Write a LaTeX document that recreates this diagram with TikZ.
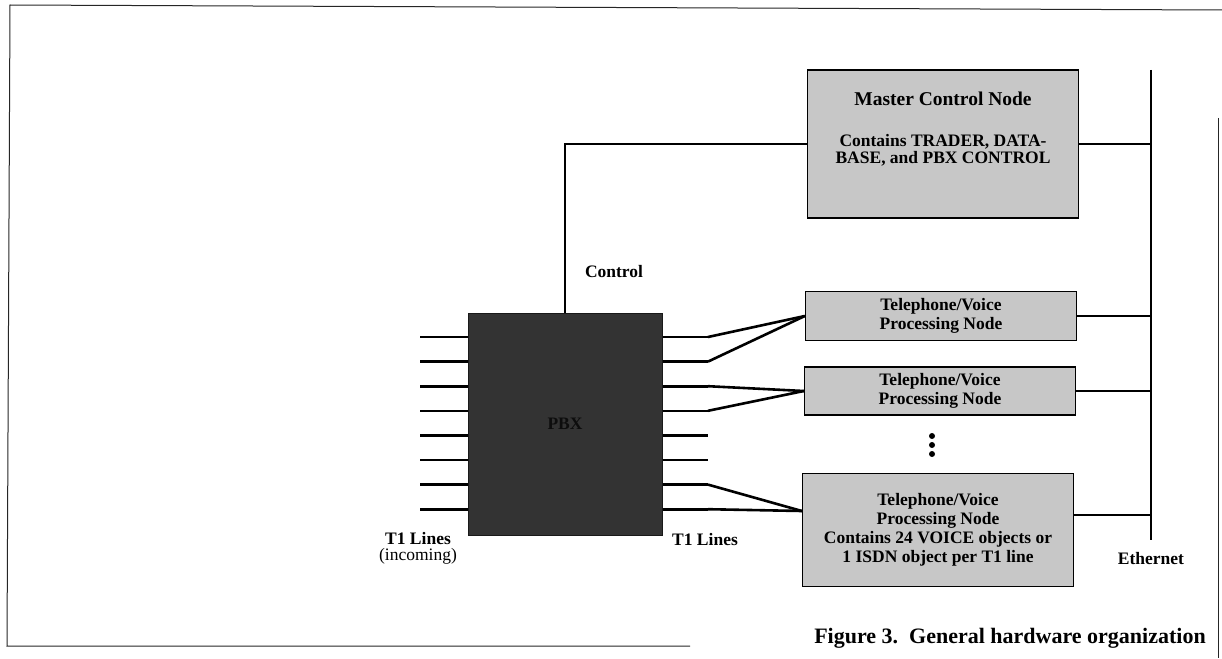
\documentclass[tikz,border=0pt]{standalone}
\usepackage{fontspec}
\setmainfont{Liberation Serif}
\usetikzlibrary{positioning}

\begin{document}
\begin{tikzpicture}[x=1pt,y=-1pt,
  font=\fontsize{17.5}{19}\selectfont\bfseries,
  gbox/.style={draw,line width=1.3pt,fill=black!22,align=center,inner sep=0pt,minimum width=271pt},
  pbxbox/.style={draw=black!90,line width=1pt,fill=black!80,minimum width=194pt,minimum height=222pt,text=black!95},
  lbl/.style={align=center,inner sep=0pt},
  t1/.style={line width=2.6pt,line join=round},
  lnk/.style={line width=1.1pt},
  bus/.style={line width=2pt},
  frm/.style={line width=1pt,black!85},
]
\useasboundingbox (0,0) rectangle (1222,658);
% frame of the figure
\draw[frm] (1222,10) -- (10,5) -- (7,646) -- (690,646);
\draw[frm] (1218,118) -- (1218,658);
% nodes
\node[pbxbox] (pbx) at (565,424) {PBX};
\node[gbox,minimum height=148pt] (mcn) at (943,144) {};
\node[lbl,below=22pt of mcn.north,font=\fontsize{17.5}{17}\selectfont\bfseries] (mcntxt)
  {{\fontsize{19.5}{17}\selectfont Master Control Node}\\[24pt]Contains TRADER, DATA-\\BASE, and PBX CONTROL};
\node[gbox,minimum height=49pt] (tv1) at (941,316) {Telephone/Voice\\Processing Node};
\node[gbox,minimum height=48pt] (tv2) at (940,391) {Telephone/Voice\\Processing Node};
\node[gbox,minimum height=113pt] (tv3) at (938,530)
  {Telephone/Voice\\Processing Node\\Contains 24 VOICE objects or\\1 ISDN object per T1 line};
\foreach \d in {436,445,454} \fill (932,\d) circle (3pt);
% ethernet
\coordinate (ethtop) at (1151,70);
\coordinate (ethbot) at (1151,540);
\draw[bus] (ethtop) -- (ethbot);
\draw[lnk] (mcn.east) -- (mcn.east -| ethtop);
\draw[lnk] (tv1.east) -- (tv1.east -| ethtop);
\draw[lnk] (tv2.east) -- (tv2.east -| ethtop);
\coordinate (tv3out) at ([yshift=15pt]tv3.east);
\draw[lnk] (tv3out) -- (tv3out -| ethtop);
% control
\draw[lnk] (pbx.north) |- (mcn.west);
\node[lbl] (ctl) at (614,272) {Control};
% T1 lines
\foreach \i in {0,...,7} {
  \coordinate (in\i) at (420,{337+24.6*\i});
  \coordinate (out\i) at (708,{337+24.6*\i});
  \draw[t1] (in\i) -- (in\i -| pbx.west);
  \draw[t1] (out\i -| pbx.east) -- (out\i);
}
\coordinate (tv3in) at ([yshift=19pt]tv3.west);
\draw[t1] (out0) -- (tv1.west);
\draw[t1] (out1) -- (tv1.west);
\draw[t1] (out2) -- (tv2.west);
\draw[t1] (out3) -- (tv2.west);
\draw[t1] (out6) -- (tv3in);
\draw[t1] (out7) -- (tv3in);
% labels
\node[lbl] (t1in) at (418,539) {T1 Lines};
\node[lbl,below=3pt of t1in,font=\fontsize{17.5}{19}\selectfont] (t1inc) {(incoming)};
\node[lbl] (t1out) at (705,540) {T1 Lines};
\node[lbl,below=12pt of ethbot] (eth) {Ethernet};
\node[lbl,font=\fontsize{22}{24}\selectfont\bfseries] (cap) at (1010,638)
  {Figure 3.\enspace General hardware organization};
\end{tikzpicture}
\end{document}
